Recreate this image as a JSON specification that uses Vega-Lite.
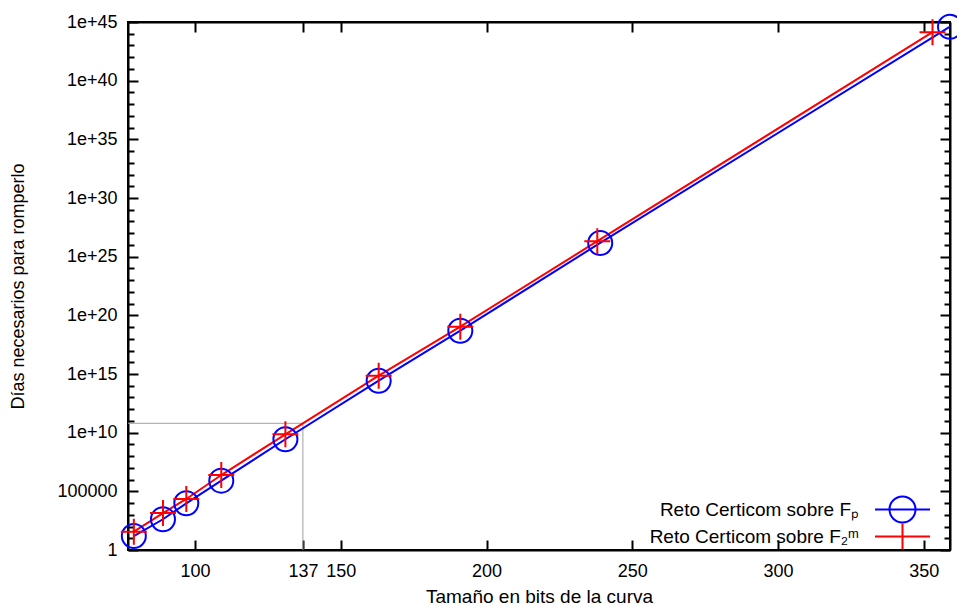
{
  "$schema": "https://vega.github.io/schema/vega-lite/v6.json",
  "autosize": {"type": "none"},
  "padding": {"left": 128, "top": 22, "right": 7, "bottom": 55},
  "width": 822,
  "height": 528,
  "background": "white",
  "config": {
    "font": "Liberation Sans",
    "view": {"stroke": "black", "strokeWidth": 2},
    "axis": {"grid": false, "ticks": true, "zindex": 1, "domainColor": "black", "domainWidth": 2, "tickColor": "black", "tickWidth": 2, "tickOpacity": 1, "labelColor": "black", "titleColor": "black", "labelFontSize": 18, "titleFontSize": 19, "titleFontWeight": "normal", "labelFlush": false, "labelOverlap": false}
  },
  "datasets": {
    "pts": [
      {"bits": 79, "days": 15.5, "serie": "Reto Certicom sobre Fₚ"},
      {"bits": 89, "days": 417, "serie": "Reto Certicom sobre Fₚ"},
      {"bits": 97, "days": 9550, "serie": "Reto Certicom sobre Fₚ"},
      {"bits": 109, "days": 813000, "serie": "Reto Certicom sobre Fₚ"},
      {"bits": 131, "days": 2.75e9, "serie": "Reto Certicom sobre Fₚ"},
      {"bits": 163, "days": 2.69e14, "serie": "Reto Certicom sobre Fₚ"},
      {"bits": 191, "days": 4.9e18, "serie": "Reto Certicom sobre Fₚ"},
      {"bits": 239, "days": 1.48e26, "serie": "Reto Certicom sobre Fₚ"},
      {"bits": 359, "days": 3.98e44, "serie": "Reto Certicom sobre Fₚ"},
      {"bits": 79, "days": 36.3, "serie": "Reto Certicom sobre F₂ᵐ"},
      {"bits": 89, "days": 1413, "serie": "Reto Certicom sobre F₂ᵐ"},
      {"bits": 97, "days": 22400, "serie": "Reto Certicom sobre F₂ᵐ"},
      {"bits": 109, "days": 2450000, "serie": "Reto Certicom sobre F₂ᵐ"},
      {"bits": 131, "days": 7.24e9, "serie": "Reto Certicom sobre F₂ᵐ"},
      {"bits": 163, "days": 7.24e14, "serie": "Reto Certicom sobre F₂ᵐ"},
      {"bits": 191, "days": 1.07e19, "serie": "Reto Certicom sobre F₂ᵐ"},
      {"bits": 238, "days": 2.09e26, "serie": "Reto Certicom sobre F₂ᵐ"},
      {"bits": 353, "days": 1.35e44, "serie": "Reto Certicom sobre F₂ᵐ"}
    ],
    "ref": [
      {"bits": 77, "days": 6.3e10, "o": 1},
      {"bits": 137, "days": 6.3e10, "o": 2},
      {"bits": 137, "days": 1, "o": 3}
    ]
  },
  "layer": [
    {
      "data": {"name": "ref"},
      "mark": {"type": "line", "color": "#a0a0a0", "strokeWidth": 1, "clip": false},
      "encoding": {
        "x": {"field": "bits", "type": "quantitative", "scale": {"domain": [77, 359], "nice": false, "zero": false},
          "axis": {"orient": "top", "title": null, "labels": false, "values": [100, 137, 150, 200, 250, 300, 350], "tickSize": -10}},
        "y": {"field": "days", "type": "quantitative", "scale": {"type": "log", "domain": [1, 1e45], "nice": false},
          "axis": {"orient": "right", "title": null, "labels": false,
            "values": [1,10,100,1000,10000,100000,1e6,1e7,1e8,1e9,1e10,1e11,1e12,1e13,1e14,1e15,1e16,1e17,1e18,1e19,1e20,1e21,1e22,1e23,1e24,1e25,1e26,1e27,1e28,1e29,1e30,1e31,1e32,1e33,1e34,1e35,1e36,1e37,1e38,1e39,1e40,1e41,1e42,1e43,1e44,1e45],
            "tickSize": {"condition": {"test": "round(log(datum.value)/LN10) % 5 == 0", "value": -10}, "value": -6}}},
        "order": {"field": "o", "type": "quantitative"}
      }
    },
    {
      "data": {"name": "pts"},
      "transform": [{"filter": "datum.serie == 'Reto Certicom sobre Fₚ'"}],
      "mark": {"type": "line", "color": "#0000ff", "strokeWidth": 2, "clip": false},
      "encoding": {
        "x": {"field": "bits", "type": "quantitative",
          "axis": {"orient": "bottom", "title": "Tamaño en bits de la curva", "values": [100, 137, 150, 200, 250, 300, 350], "tickSize": -10, "labelPadding": 22, "titleX": 411, "titleY": 46, "titleBaseline": "middle", "titleAnchor": null}},
        "y": {"field": "days", "type": "quantitative",
          "axis": {"orient": "left", "title": "Días necesarios para romperlo",
            "values": [1,10,100,1000,10000,100000,1e6,1e7,1e8,1e9,1e10,1e11,1e12,1e13,1e14,1e15,1e16,1e17,1e18,1e19,1e20,1e21,1e22,1e23,1e24,1e25,1e26,1e27,1e28,1e29,1e30,1e31,1e32,1e33,1e34,1e35,1e36,1e37,1e38,1e39,1e40,1e41,1e42,1e43,1e44,1e45],
            "labelExpr": "round(log(datum.value)/LN10) % 5 != 0 ? '' : (datum.value < 2 ? '1' : (datum.value < 1e6 ? '100000' : '1e+' + round(log(datum.value)/LN10)))",
            "tickSize": {"condition": {"test": "round(log(datum.value)/LN10) % 5 == 0", "value": -10}, "value": -6},
            "labelPadding": 21, "titleFontSize": 18, "titleX": -110, "titleY": 264, "titleBaseline": "middle", "titleAngle": -90, "titleAlign": "center"}}
      }
    },
    {
      "data": {"name": "pts"},
      "transform": [{"filter": "datum.serie == 'Reto Certicom sobre F₂ᵐ'"}],
      "mark": {"type": "line", "color": "#ff0000", "strokeWidth": 2, "clip": false},
      "encoding": {
        "x": {"field": "bits", "type": "quantitative", "axis": null},
        "y": {"field": "days", "type": "quantitative", "axis": null}
      }
    },
    {
      "data": {"name": "pts"},
      "transform": [{"filter": "datum.serie == 'Reto Certicom sobre Fₚ'"}],
      "mark": {"type": "point", "shape": "circle", "filled": false, "color": "#0000ff", "strokeWidth": 2, "size": 576, "opacity": 1, "clip": false},
      "encoding": {
        "x": {"field": "bits", "type": "quantitative", "axis": null},
        "y": {"field": "days", "type": "quantitative", "axis": null}
      }
    },
    {
      "data": {"name": "pts"},
      "transform": [{"filter": "datum.serie == 'Reto Certicom sobre F₂ᵐ'"}],
      "mark": {"type": "point", "shape": "M-1,0L1,0M0,-1L0,1", "filled": false, "color": "#ff0000", "strokeWidth": 2, "size": 676, "opacity": 1, "clip": false},
      "encoding": {
        "x": {"field": "bits", "type": "quantitative", "axis": null},
        "y": {"field": "days", "type": "quantitative", "axis": null}
      }
    },
    {
      "data": {"name": "pts"},
      "transform": [{"filter": "false"}],
      "mark": {"type": "point", "filled": false, "strokeWidth": 2, "opacity": 1},
      "encoding": {
        "x": {"field": "bits", "type": "quantitative", "axis": null},
        "y": {"field": "days", "type": "quantitative", "axis": null},
        "shape": {"field": "serie", "type": "nominal",
          "scale": {"domain": ["Reto Certicom sobre Fₚ", "Reto Certicom sobre F₂ᵐ"], "range": ["M-5.5,0L5.5,0M2.6,0A2.6,2.6 0 1,1 -2.6,0A2.6,2.6 0 1,1 2.6,0Z", "M-5.5,0L5.5,0M0,-2.6L0,2.6"]},
          "legend": {"title": null, "orient": "none", "legendX": 765, "legendY": 478, "padding": 0, "symbolSize": 100, "symbolStrokeWidth": 2, "labelAlign": "right", "labelOffset": -53, "labelFontSize": 19, "labelColor": "black", "labelBaseline": "middle", "rowPadding": -20, "labelLimit": 0}},
        "color": {"field": "serie", "type": "nominal",
          "scale": {"domain": ["Reto Certicom sobre Fₚ", "Reto Certicom sobre F₂ᵐ"], "range": ["#0000ff", "#ff0000"]},
          "legend": {"title": null, "orient": "none", "legendX": 765, "legendY": 478, "padding": 0, "symbolSize": 100, "symbolStrokeWidth": 2, "labelAlign": "right", "labelOffset": -53, "labelFontSize": 19, "labelColor": "black", "labelBaseline": "middle", "rowPadding": -20, "labelLimit": 0}}
      }
    }
  ],
  "resolve": {"axis": {"x": "independent", "y": "independent"}}
}
